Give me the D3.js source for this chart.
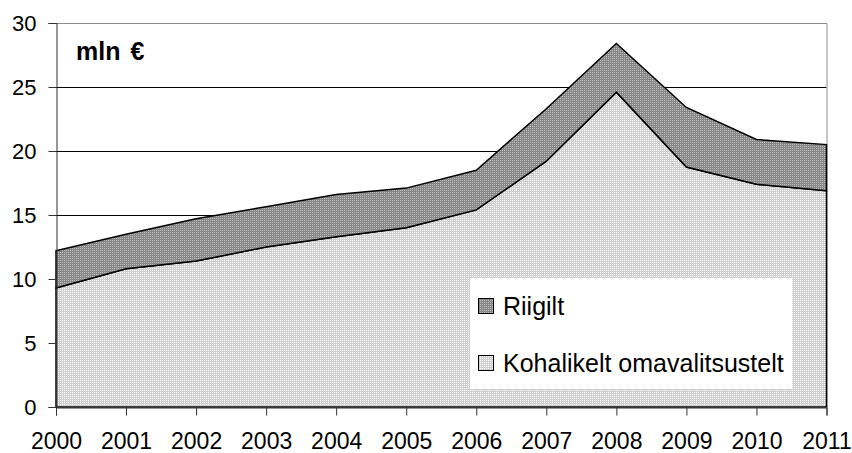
<!DOCTYPE html>
<html>
<head>
<meta charset="utf-8">
<script src="https://cdn.jsdelivr.net/npm/d3@7"></script>
<style>
	body { margin: 0; background: #fff; }
	svg text { font-family: "Liberation Sans", Arial, sans-serif; fill: #000; }
</style>
</head>
<body>
<div id="chart"></div>
<script>
var years = [2000, 2001, 2002, 2003, 2004, 2005, 2006, 2007, 2008, 2009, 2010, 2011];
var kohalikelt = [9.3, 10.8, 11.4, 12.5, 13.3, 14.0, 15.4, 19.2, 24.6, 18.75, 17.4, 16.9];
var riigilt = [2.9, 2.7, 3.3, 3.15, 3.3, 3.1, 3.1, 4.1, 3.8, 4.65, 3.5, 3.6];
var yTicks = [0, 5, 10, 15, 20, 25, 30];
var seriesNames = ["Kohalikelt omavalitsustelt", "Riigilt"];

var width = 852, height = 453;
var margins = {top: 23, bottom: 46, left: 56, right: 25};

var svg = d3.select("#chart").append("svg")
	.attr("width", width)
	.attr("height", height);

// dotted fills, like the old excel patterns
var defs = svg.append("defs");
function makePattern(id, light, dark) {
	var p = defs.append("pattern")
		.attr("id", id)
		.attr("width", 2).attr("height", 2)
		.attr("patternUnits", "userSpaceOnUse");
	p.append("rect").attr("width", 2).attr("height", 2).attr("fill", dark);
	p.append("rect").attr("width", 1).attr("height", 1).attr("fill", light);
}
makePattern("patLow", "#ffffff", "#d0d0d0");
makePattern("patHigh", "#c0c0c0", "#868686");

var x = d3.scaleLinear()
	.domain([years[0], years[years.length - 1]])
	.range([margins.left, width - margins.right - 0.5]);

var y = d3.scaleLinear()
	.domain([0, 30])
	.range([height - margins.bottom, margins.top]);

var rows = years.map(function(yr, i) {
	return {year: yr, k: kohalikelt[i], r: riigilt[i]};
});
var stacked = d3.stack().keys(["k", "r"])(rows);

// gridlines
svg.append("g").selectAll("line")
	.data(yTicks.filter(function(t) { return t > 0 && t < 30; }))
	.enter().append("line")
	.attr("x1", margins.left).attr("x2", x(2011))
	.attr("y1", function(d) { return Math.round(y(d)) + 0.5; })
	.attr("y2", function(d) { return Math.round(y(d)) + 0.5; })
	.attr("stroke", "#000").attr("stroke-width", 1);

// plot frame (top + right)
svg.append("path")
	.attr("d", "M" + margins.left + "," + (y(30) + 0.5) + "H" + (x(2011) + 0.5) + "V" + y(0))
	.attr("fill", "none").attr("stroke", "#8c8c8c").attr("stroke-width", 1);

var area = d3.area()
	.x(function(d) { return x(d.data.year); })
	.y0(function(d) { return y(d[0]); })
	.y1(function(d) { return y(d[1]); });

var fills = ["url(#patLow)", "url(#patHigh)"];

svg.append("g").selectAll("path")
	.data(stacked)
	.enter().append("path")
	.attr("d", area)
	.attr("fill", function(d, i) { return fills[i]; })
	.attr("stroke", "#000")
	.attr("stroke-width", 1.5)
	.attr("stroke-linejoin", "miter");

// axes
var yAxis = d3.axisLeft(y).tickValues(yTicks).tickSize(8).tickPadding(12);
svg.append("g")
	.attr("transform", "translate(" + (margins.left + 0.5) + ",0)")
	.call(yAxis)
	.call(function(g) {
		g.select(".domain").attr("stroke", "#333");
		g.selectAll(".tick line").attr("stroke", "#333");
		g.selectAll("text").style("font-size", "22px");
	});

var xAxis = d3.axisBottom(x).tickValues(years).tickFormat(d3.format("d")).tickSize(8).tickPadding(17);
svg.append("g")
	.attr("transform", "translate(0," + (y(0) + 0.5) + ")")
	.call(xAxis)
	.call(function(g) {
		g.select(".domain").attr("stroke", "#333");
		g.selectAll(".tick line").attr("stroke", "#333");
		g.selectAll("text").style("font-size", "23px");
	});

// unit label
svg.append("text")
	.attr("x", 76).attr("y", 60)
	.style("font-size", "25px")
	.style("font-weight", "bold")
	.style("word-spacing", "3px")
	.text("mln €");

// legend
var legend = svg.append("g");
legend.append("rect")
	.attr("x", 470).attr("y", 278)
	.attr("width", 322).attr("height", 111)
	.attr("fill", "#fff");

var legendItems = [
	{name: seriesNames[1], fill: fills[1], y: 298},
	{name: seriesNames[0], fill: fills[0], y: 355}
];

legendItems.forEach(function(it) {
	legend.append("rect")
		.attr("x", 478.5).attr("y", it.y + 0.5)
		.attr("width", 15).attr("height", 15)
		.attr("fill", it.fill)
		.attr("stroke", "#000").attr("stroke-width", 1);
	legend.append("text")
		.attr("x", 503).attr("y", it.y + 17)
		.style("font-size", "25px")
		.text(it.name);
});
</script>
</body>
</html>
